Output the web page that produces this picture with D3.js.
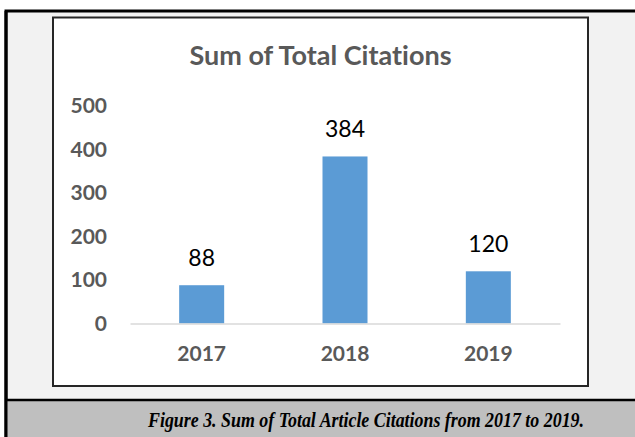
<!DOCTYPE html>
<html>
<head>
<meta charset="utf-8">
<script src="https://cdn.jsdelivr.net/npm/d3@7"></script>
<style>
  body { margin: 0; background: #fff; }
  svg { display: block; }
  text { font-variant-ligatures: none; }
</style>
</head>
<body>
<script>
// chart data
var years = ["2017", "2018", "2019"];
var citations = [88, 384, 120];
var yTicks = [0, 100, 200, 300, 400, 500];
var chartTitle = "Sum of Total Citations";
var caption = "Figure 3. Sum of Total Article Citations from 2017 to 2019.";

var width = 635, height = 437;

var svg = d3.select("body").append("svg")
  .attr("width", width)
  .attr("height", height);

// outer panel (right and bottom edges run off the page)
svg.append("rect")
  .attr("x", 6).attr("y", 11)
  .attr("width", width - 6).attr("height", height - 11)
  .attr("fill", "#f2f2f2");
svg.append("path")
  .attr("d", "M6," + height + "V11H" + width)
  .attr("fill", "none")
  .attr("stroke", "#000")
  .attr("stroke-width", 3);

// caption band
svg.append("rect")
  .attr("x", 6).attr("y", 400)
  .attr("width", width - 6).attr("height", height - 400)
  .attr("fill", "#bfbfbf");
svg.append("line")
  .attr("x1", 6).attr("x2", width)
  .attr("y1", 400).attr("y2", 400)
  .attr("stroke", "#000")
  .attr("stroke-width", 2.5);
svg.append("line")
  .attr("x1", 6).attr("x2", 6)
  .attr("y1", 11).attr("y2", height)
  .attr("stroke", "#000")
  .attr("stroke-width", 3);

svg.append("text")
  .attr("x", 366).attr("y", 427)
  .attr("text-anchor", "middle")
  .attr("textLength", 436)
  .attr("lengthAdjust", "spacingAndGlyphs")
  .style("font-family", "'Liberation Serif', serif")
  .style("font-weight", "bold")
  .style("font-style", "italic")
  .style("font-size", "20px")
  .attr("fill", "#000")
  .text(caption);

// chart box
svg.append("rect")
  .attr("x", 53).attr("y", 17.5)
  .attr("width", 535).attr("height", 368.5)
  .attr("fill", "#fff")
  .attr("stroke", "#262626")
  .attr("stroke-width", 2);

svg.append("text")
  .attr("x", 320.5).attr("y", 65)
  .attr("text-anchor", "middle")
  .style("font-family", "Lato, sans-serif")
  .style("font-weight", "bold")
  .style("font-size", "27px")
  .attr("fill", "#595959")
  .text(chartTitle);

var x = d3.scaleBand()
  .domain(years)
  .range([130, 560])
  .paddingInner(0.686)
  .paddingOuter(0.343);

var y = d3.scaleLinear()
  .domain([0, 500])
  .range([323.5, 106]);

// y tick labels (no gridlines in the original)
var yAxis = d3.axisLeft(y)
  .tickValues(yTicks)
  .tickSize(0)
  .tickPadding(0);

var gy = svg.append("g")
  .attr("transform", "translate(107,0)")
  .call(yAxis);
gy.select(".domain").remove();
gy.selectAll("text")
  .style("font-family", "Lato, sans-serif")
  .style("font-weight", "bold")
  .style("font-size", "21px")
  .attr("fill", "#595959");

// bars
svg.selectAll(".bar")
  .data(citations)
  .enter().append("rect")
  .attr("class", "bar")
  .attr("x", function(d, i) { return x(years[i]); })
  .attr("y", function(d) { return y(d); })
  .attr("width", x.bandwidth())
  .attr("height", function(d) { return y(0) - y(d); })
  .attr("fill", "#5b9bd5");

// baseline + x labels
var xAxis = d3.axisBottom(x).tickSize(0).tickPadding(23);
var gx = svg.append("g")
  .attr("transform", "translate(0," + y(0) + ")")
  .call(xAxis);
gx.select(".domain")
  .attr("stroke", "#d9d9d9")
  .attr("stroke-width", 1.5);
gx.selectAll("text")
  .style("font-family", "Lato, sans-serif")
  .style("font-weight", "bold")
  .style("font-size", "21px")
  .attr("fill", "#595959");

// value labels
svg.selectAll(".val")
  .data(citations)
  .enter().append("text")
  .attr("class", "val")
  .attr("x", function(d, i) { return x(years[i]) + x.bandwidth() / 2; })
  .attr("y", function(d) { return y(d) - 19; })
  .attr("text-anchor", "middle")
  .style("font-family", "Lato, sans-serif")
  .style("font-size", "23px")
  .attr("fill", "#000")
  .text(function(d) { return d; });
</script>
</body>
</html>
